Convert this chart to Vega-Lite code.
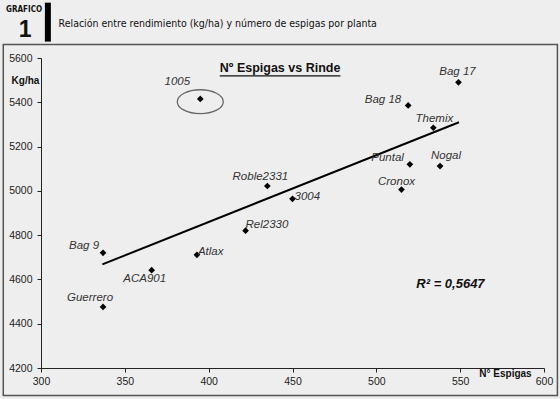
{
  "$schema": "https://vega.github.io/schema/vega-lite/v6.json",
  "width": 503,
  "height": 310,
  "autosize": {"type": "none"},
  "padding": {"left": 41, "top": 58, "right": 16, "bottom": 31},
  "background": "#eeeeee",
  "config": {
    "view": {"stroke": null},
    "font": "Liberation Sans",
    "axis": {
      "domainColor": "#222",
      "tickColor": "#222",
      "labelColor": "#222",
      "labelFont": "Liberation Sans",
      "labelFontSize": 10.5,
      "grid": false,
      "tickSize": 4,
      "titleFont": "Liberation Sans",
      "titleFontSize": 10,
      "titleFontWeight": "bold",
      "titleColor": "#111"
    }
  },
  "datasets": {
    "pts": [
      {"variedad": "1005", "espigas": 395, "rinde": 5415},
      {"variedad": "Bag 17", "espigas": 549, "rinde": 5490},
      {"variedad": "Bag 18", "espigas": 519, "rinde": 5386},
      {"variedad": "Themix", "espigas": 534, "rinde": 5285},
      {"variedad": "Puntal", "espigas": 520, "rinde": 5120},
      {"variedad": "Nogal", "espigas": 538, "rinde": 5112},
      {"variedad": "Cronox", "espigas": 515, "rinde": 5006},
      {"variedad": "3004", "espigas": 450, "rinde": 4964},
      {"variedad": "Roble2331", "espigas": 435, "rinde": 5022},
      {"variedad": "Rel2330", "espigas": 422, "rinde": 4820},
      {"variedad": "Bag 9", "espigas": 337, "rinde": 4720},
      {"variedad": "ACA901", "espigas": 366, "rinde": 4642},
      {"variedad": "Atlax", "espigas": 393, "rinde": 4711},
      {"variedad": "Guerrero", "espigas": 337, "rinde": 4476}
    ],
    "trend": [
      {"espigas": 336.6, "rinde": 4668},
      {"espigas": 549.3, "rinde": 5310}
    ]
  },
  "data": {"name": "pts"},
  "encoding": {
    "x": {
      "field": "espigas", "type": "quantitative",
      "scale": {"domain": [300, 600], "nice": false, "zero": false},
      "axis": {"values": [300, 350, 400, 450, 500, 550, 600], "format": "d", "title": "N° Espigas", "titleX": 464, "titleY": 5, "titleBaseline": "middle", "titleAlign": "center", "labelPadding": 4, "labelFlush": false}
    },
    "y": {
      "field": "rinde", "type": "quantitative",
      "scale": {"domain": [4200, 5600], "nice": false, "zero": false},
      "axis": {"values": [4200, 4400, 4600, 4800, 5000, 5200, 5400, 5600], "format": "d", "title": "Kg/ha", "titleAngle": 0, "titleX": -16, "titleY": 22, "titleAlign": "center", "titleBaseline": "middle", "labelPadding": 5, "labelFlush": false}
    }
  },
  "layer": [
    {
      "transform": [{"filter": "datum.variedad == '1005'"}],
      "mark": {"type": "rect", "fill": null, "stroke": "#555", "strokeWidth": 1.5},
      "encoding": {"x": {"datum": 277.5}, "x2": {"datum": 608}, "y": {"datum": 5661}, "y2": {"datum": 4076}}
    },
    {
      "data": {"name": "trend"},
      "mark": {"type": "line", "color": "#000", "strokeWidth": 2},
      "encoding": {}
    },
    {
      "transform": [{"filter": "datum.variedad == '1005'"}],
      "mark": {"type": "point", "shape": "M-1,0.12 A1,0.52 0 1,1 1,0.12 A1,0.52 0 1,1 -1,0.12 Z", "size": 2116, "filled": false, "stroke": "#666", "strokeWidth": 1.3, "opacity": 1}
    },
    {
      "mark": {"type": "point", "shape": "diamond", "filled": true, "color": "#000", "size": 45, "opacity": 1}
    },
    {"transform": [{"filter": "datum.variedad == '1005'"}], "mark": {"type": "text", "font": "Liberation Sans", "fontStyle": "italic", "fontSize": 11.5, "color": "#333", "align": "center", "baseline": "middle", "dx": -23, "dy": -16.5}, "encoding": {"text": {"field": "variedad"}}},
    {"transform": [{"filter": "datum.variedad == 'Bag 17'"}], "mark": {"type": "text", "font": "Liberation Sans", "fontStyle": "italic", "fontSize": 11.5, "color": "#333", "align": "center", "baseline": "middle", "dx": -1, "dy": -10}, "encoding": {"text": {"field": "variedad"}}},
    {"transform": [{"filter": "datum.variedad == 'Bag 18'"}], "mark": {"type": "text", "font": "Liberation Sans", "fontStyle": "italic", "fontSize": 11.5, "color": "#333", "align": "right", "baseline": "middle", "dx": -7, "dy": -5}, "encoding": {"text": {"field": "variedad"}}},
    {"transform": [{"filter": "datum.variedad == 'Themix'"}], "mark": {"type": "text", "font": "Liberation Sans", "fontStyle": "italic", "fontSize": 11.5, "color": "#333", "align": "center", "baseline": "middle", "dx": 1, "dy": -8.5}, "encoding": {"text": {"field": "variedad"}}},
    {"transform": [{"filter": "datum.variedad == 'Puntal'"}], "mark": {"type": "text", "font": "Liberation Sans", "fontStyle": "italic", "fontSize": 11.5, "color": "#333", "align": "right", "baseline": "middle", "dx": -6, "dy": -6}, "encoding": {"text": {"field": "variedad"}}},
    {"transform": [{"filter": "datum.variedad == 'Nogal'"}], "mark": {"type": "text", "font": "Liberation Sans", "fontStyle": "italic", "fontSize": 11.5, "color": "#333", "align": "center", "baseline": "middle", "dx": 6, "dy": -10}, "encoding": {"text": {"field": "variedad"}}},
    {"transform": [{"filter": "datum.variedad == 'Cronox'"}], "mark": {"type": "text", "font": "Liberation Sans", "fontStyle": "italic", "fontSize": 11.5, "color": "#333", "align": "center", "baseline": "middle", "dx": -5, "dy": -8}, "encoding": {"text": {"field": "variedad"}}},
    {"transform": [{"filter": "datum.variedad == '3004'"}], "mark": {"type": "text", "font": "Liberation Sans", "fontStyle": "italic", "fontSize": 11.5, "color": "#333", "align": "left", "baseline": "middle", "dx": 2, "dy": -1.5}, "encoding": {"text": {"field": "variedad"}}},
    {"transform": [{"filter": "datum.variedad == 'Roble2331'"}], "mark": {"type": "text", "font": "Liberation Sans", "fontStyle": "italic", "fontSize": 11.5, "color": "#333", "align": "center", "baseline": "middle", "dx": -7, "dy": -9}, "encoding": {"text": {"field": "variedad"}}},
    {"transform": [{"filter": "datum.variedad == 'Rel2330'"}], "mark": {"type": "text", "font": "Liberation Sans", "fontStyle": "italic", "fontSize": 11.5, "color": "#333", "align": "left", "baseline": "middle", "dx": 0, "dy": -6}, "encoding": {"text": {"field": "variedad"}}},
    {"transform": [{"filter": "datum.variedad == 'Bag 9'"}], "mark": {"type": "text", "font": "Liberation Sans", "fontStyle": "italic", "fontSize": 11.5, "color": "#333", "align": "right", "baseline": "middle", "dx": -4, "dy": -7}, "encoding": {"text": {"field": "variedad"}}},
    {"transform": [{"filter": "datum.variedad == 'ACA901'"}], "mark": {"type": "text", "font": "Liberation Sans", "fontStyle": "italic", "fontSize": 11.5, "color": "#333", "align": "center", "baseline": "middle", "dx": -7, "dy": 9}, "encoding": {"text": {"field": "variedad"}}},
    {"transform": [{"filter": "datum.variedad == 'Atlax'"}], "mark": {"type": "text", "font": "Liberation Sans", "fontStyle": "italic", "fontSize": 11.5, "color": "#333", "align": "left", "baseline": "middle", "dx": 1, "dy": -3}, "encoding": {"text": {"field": "variedad"}}},
    {"transform": [{"filter": "datum.variedad == 'Guerrero'"}], "mark": {"type": "text", "font": "Liberation Sans", "fontStyle": "italic", "fontSize": 11.5, "color": "#333", "align": "center", "baseline": "middle", "dx": -13, "dy": -9}, "encoding": {"text": {"field": "variedad"}}},
    {
      "transform": [{"filter": "datum.variedad == '1005'"}],
      "mark": {"type": "text", "text": "Nº Espigas vs Rinde", "font": "Liberation Sans", "fontWeight": "bold", "fontSize": 12.5, "color": "#111", "align": "center", "baseline": "alphabetic"},
      "encoding": {"x": {"datum": 442.6}, "y": {"datum": 5537}}
    },
    {
      "transform": [{"filter": "datum.variedad == '1005'"}],
      "mark": {"type": "rule", "color": "#111", "strokeWidth": 1.3},
      "encoding": {"x": {"datum": 406.6}, "x2": {"datum": 478.6}, "y": {"datum": 5519}}
    },
    {
      "transform": [{"filter": "datum.variedad == '1005'"}],
      "mark": {"type": "text", "text": "R² = 0,5647", "font": "Liberation Sans", "fontWeight": "bold", "fontStyle": "italic", "fontSize": 13, "color": "#111", "align": "center", "baseline": "alphabetic"},
      "encoding": {"x": {"datum": 544.2}, "y": {"datum": 4563}}
    },
    {
      "transform": [{"filter": "datum.variedad == '1005'"}],
      "mark": {"type": "text", "text": "GRAFICO", "font": "DejaVu Sans Condensed, Liberation Sans", "fontWeight": "bold", "fontSize": 8, "color": "#111", "align": "center", "baseline": "alphabetic"},
      "encoding": {"x": {"datum": 289.9}, "y": {"datum": 5809}}
    },
    {
      "transform": [{"filter": "datum.variedad == '1005'"}],
      "mark": {"type": "text", "text": "1", "font": "Liberation Sans", "fontWeight": "bold", "fontSize": 23, "color": "#111", "align": "center", "baseline": "alphabetic"},
      "encoding": {"x": {"datum": 290.6}, "y": {"datum": 5696}}
    },
    {
      "transform": [{"filter": "datum.variedad == '1005'"}],
      "mark": {"type": "rule", "color": "#000", "strokeWidth": 6, "strokeCap": "butt"},
      "encoding": {"x": {"datum": 304.1}, "y": {"datum": 5850}, "y2": {"datum": 5674}}
    },
    {
      "transform": [{"filter": "datum.variedad == '1005'"}],
      "mark": {"type": "text", "text": "Relación entre rendimiento (kg/ha) y número de espigas  por planta", "font": "DejaVu Sans Condensed, Liberation Sans", "fontSize": 10.5, "color": "#111", "align": "left", "baseline": "alphabetic"},
      "encoding": {"x": {"datum": 310.5}, "y": {"datum": 5738}}
    }
  ]
}
